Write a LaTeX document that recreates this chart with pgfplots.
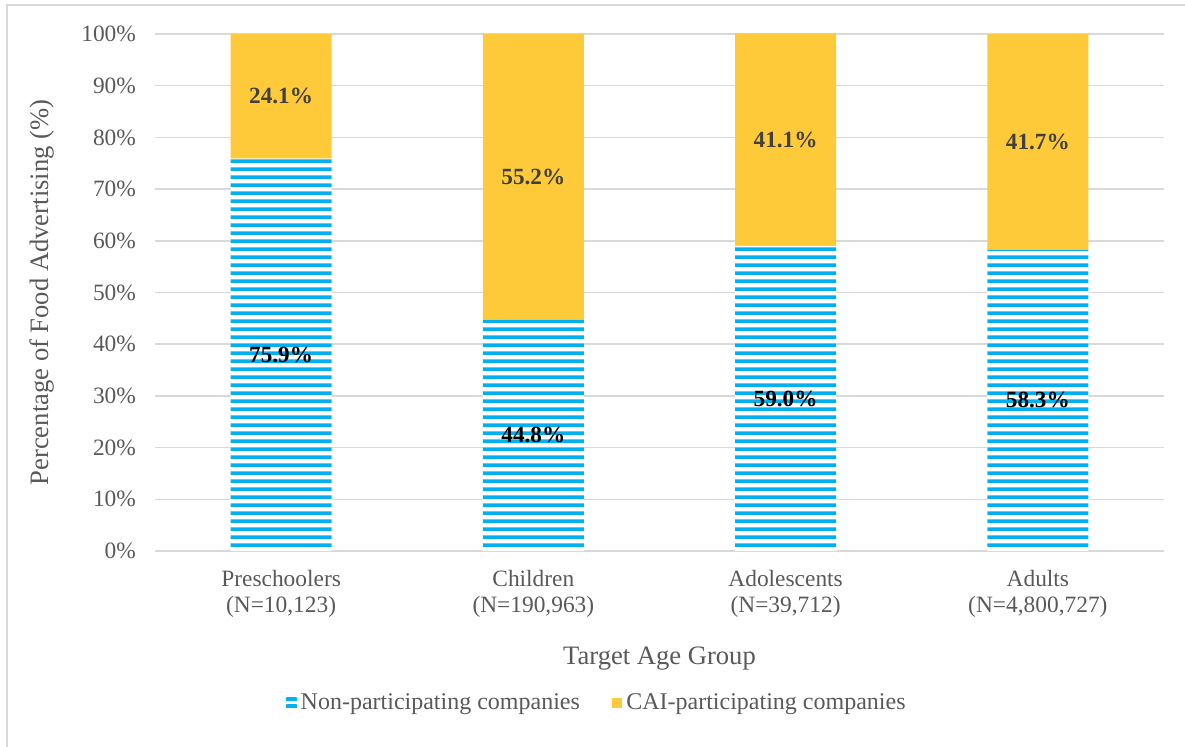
\documentclass[border=0pt]{standalone}
\usepackage{pgfplots}
\pgfplotsset{compat=1.18}
\usepackage{fontspec}
\setmainfont{Liberation Serif}
\usetikzlibrary{patterns.meta}
\definecolor{cyanbar}{HTML}{00B0F0}
\definecolor{goldbar}{HTML}{FFCA3A}
\definecolor{gridgray}{HTML}{D9D9D9}
\definecolor{txtgray}{HTML}{595959}
\definecolor{lblgray}{HTML}{404040}
\tikzdeclarepattern{
  name=hstripes,
  type=uncolored,
  bounding box={(0pt,0pt) and (16pt,4pt)},
  tile size={(16pt,4pt)},
  code={\fill (-1pt,0pt) rectangle (17pt,2pt);}
}
\pgfplotstableread{
x blue yellow bmid ymid blab ylab
0 75.9 24.1 37.95 87.95 75.9\% 24.1\%
1 44.8 55.2 22.40 72.40 44.8\% 55.2\%
2 59.0 41.1 29.50 79.55 59.0\% 41.1\%
3 58.3 41.7 29.15 79.15 58.3\% 41.7\%
}\datatable
\begin{document}
\begin{tikzpicture}[x=1pt,y=1pt]
\useasboundingbox (0,0) rectangle (592.5,373.5);
\draw[gridgray, line width=0.8pt] (3.5,-20) rectangle (620,371);
\pgfplotsset{
  commonaxis/.style={
    at={(77.5pt,98pt)}, anchor=south west,
    scale only axis, width=504.5pt, height=258.5pt,
    xmin=-0.5, xmax=3.5, ymin=0, ymax=100,
  }
}
\begin{axis}[
  commonaxis,
  ybar stacked, bar width=0.4,
  axis line style={draw=none},
  major tick length=0pt,
  ymajorgrids, grid style={gridgray, line width=0.75pt},
  xtick={0,1,2,3},
  xticklabels={{Preschoolers\\(N=10,123)},{Children\\(N=190,963)},{Adolescents\\(N=39,712)},{Adults\\(N=4,800,727)}},
  xticklabel style={align=center, font=\fontsize{11.7}{13}\selectfont, text=txtgray, yshift=-6pt},
  ytick={0,10,...,100},
  yticklabel={\pgfmathprintnumber[assume math mode=true]{\tick}\%},
  yticklabel style={font=\fontsize{11.7}{13}\selectfont, text=txtgray, xshift=-6pt},
  ylabel={Percentage of Food Advertising (\%)},
  ylabel style={at={(axis description cs:-0.112,0.5)}, anchor=center, font=\fontsize{13.3}{15}\selectfont, text=txtgray},
  xlabel={Target Age Group},
  xlabel style={at={(axis description cs:0.5,-0.209)}, anchor=center, font=\fontsize{13.3}{15}\selectfont, text=txtgray},
  legend style={at={(0.439,-0.294)}, anchor=center, draw=none, fill=none, legend columns=2,
    font=\fontsize{12}{14}\selectfont, text=txtgray,
    /tikz/every even column/.append style={column sep=14pt}},
]
\addplot[fill=white, draw=none, postaction={pattern=hstripes, pattern color=cyanbar},
  legend image code/.code={
    \fill[cyanbar] (0pt,-2.6pt) rectangle (5.2pt,-0.9pt);
    \fill[cyanbar] (0pt,0.9pt) rectangle (5.2pt,2.6pt);}]
  table[x=x, y=blue] {\datatable};
\addlegendentry{Non-participating companies}
\addplot[fill=goldbar, draw=none,
  legend image code/.code={
    \fill[goldbar] (0pt,-2.6pt) rectangle (5.2pt,2.6pt);}]
  table[x=x, y=yellow] {\datatable};
\addlegendentry{CAI-participating companies}
\end{axis}
\begin{axis}[
  commonaxis, hide axis,
  nodes near coords, point meta=explicit symbolic,
  every node near coord/.append style={anchor=center, inner sep=0pt, font=\bfseries\fontsize{11.6}{13}\selectfont},
]
\addplot[draw=none, mark=none, nodes near coords style={text=black}]
  table[x=x, y=bmid, meta=blab] {\datatable};
\addplot[draw=none, mark=none, nodes near coords style={text=lblgray}]
  table[x=x, y=ymid, meta=ylab] {\datatable};
\end{axis}
\end{tikzpicture}
\end{document}
